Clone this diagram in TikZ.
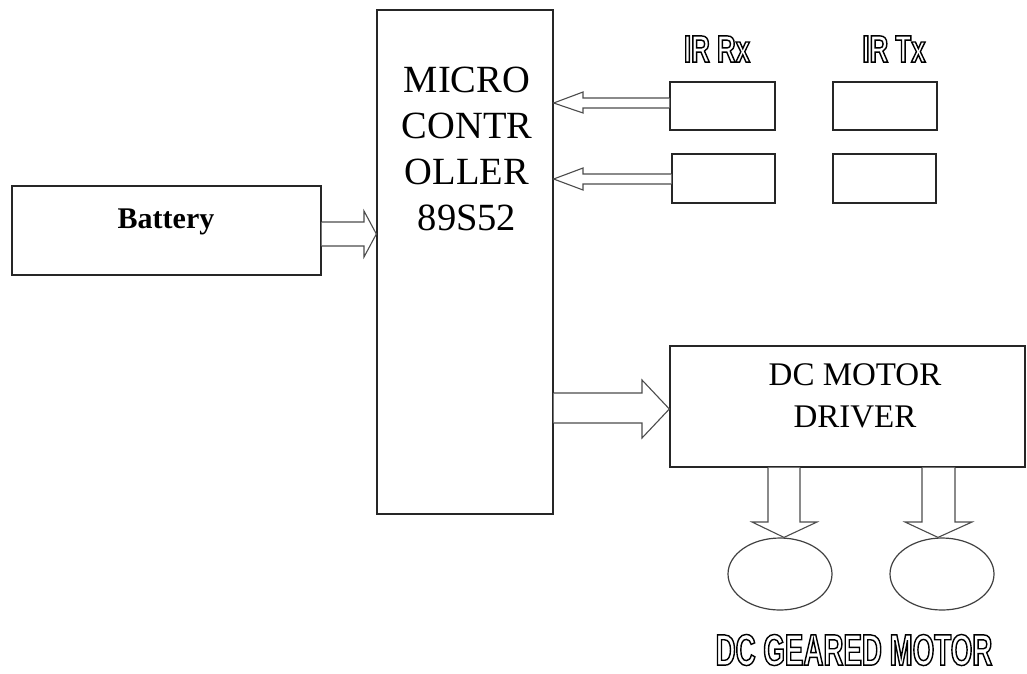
\documentclass[tikz,border=0pt]{standalone}
\usepackage{fontspec}
\setmainfont{Liberation Serif}
\newfontfamily\outfont[FakeStretch=0.68]{Liberation Sans}
\newfontfamily\outfontb[FakeStretch=0.63]{Liberation Sans}
\usetikzlibrary{shapes.geometric,calc}
\tikzset{
  box/.style={draw=black!85, line width=1.3pt, rectangle, inner sep=0pt},
  motor/.style={draw=black!75, line width=1.2pt, ellipse, inner sep=0pt, minimum width=104pt, minimum height=72pt},
  blk/.style={draw=black!70, line width=1.1pt, line join=miter, fill=white},
  outl/.style={inner sep=0pt, anchor=center},
}
\newcommand{\hollow}[1]{\special{pdf:literal direct 1 Tr 1.4 w 0 G}#1\special{pdf:literal direct 0 Tr}}
\begin{document}
\begin{tikzpicture}[x=1pt,y=-1pt]
\useasboundingbox (0,0) rectangle (1027,673);
% boxes
\node[box, minimum width=309pt, minimum height=89pt] (bat) at (166.5,230.5) {};
\node[font=\fontsize{30}{34}\selectfont\bfseries] (batt) at (166,222) {Battery};
\node[box, minimum width=176pt, minimum height=504pt] (mc) at (465,262) {};
\node[font=\fontsize{38.5}{46}\selectfont, align=center] (mct) at (467,149) {MICRO\\CONTR\\OLLER\\89S52};
\node[box, minimum width=105pt, minimum height=48pt] (rx1) at (722.5,106) {};
\node[box, minimum width=103pt, minimum height=49pt] (rx2) at (723.5,178.5) {};
\node[box, minimum width=104pt, minimum height=48pt] (tx1) at (885,106) {};
\node[box, minimum width=103pt, minimum height=49pt] (tx2) at (884.5,178.5) {};
\node[outl, font=\outfont\bfseries\fontsize{38}{40}\selectfont] (rxl) at (717,49) {\hollow{IR Rx}};
\node[outl, font=\outfont\bfseries\fontsize{38}{40}\selectfont] (txl) at (894,49) {\hollow{IR Tx}};
\node[box, minimum width=355pt, minimum height=121pt] (drv) at (847.5,406.5) {};
\node[font=\fontsize{33}{42}\selectfont, align=center] (drvt) at (855,396) {DC MOTOR\\DRIVER};
\node[motor] (m1) at (780,574) {};
\node[motor] (m2) at (942,574) {};
\node[outl, font=\outfontb\bfseries\fontsize{44}{48}\selectfont] (gml) at (854,650) {\hollow{DC GEARED MOTOR}};
% block arrows
\draw[blk] (bat.east |- 0,222) -- (364,222) -- (364,211) -- (mc.west |- 0,234) -- (364,257) -- (364,246) -- (bat.east |- 0,246);
\draw[blk] (rx1.west |- 0,98) -- (583,98) -- (583,92) -- (mc.east |- 0,103) -- (583,113) -- (583,108) -- (rx1.west |- 0,108);
\draw[blk] (rx2.west |- 0,174) -- (583,174) -- (583,168) -- (mc.east |- 0,179) -- (583,190) -- (583,184) -- (rx2.west |- 0,184);
\draw[blk] (mc.east |- 0,393) -- (642,393) -- (642,380) -- (drv.west |- 0,409) -- (642,438) -- (642,423) -- (mc.east |- 0,423);
\draw[blk] (768,0 |- drv.south) -- (768,522) -- (752,522) -- (784,0 |- m1.north) -- (817,522) -- (800,522) -- (800,0 |- drv.south);
\draw[blk] (922,0 |- drv.south) -- (922,522) -- (905,522) -- (938,0 |- m2.north) -- (972,522) -- (955,522) -- (955,0 |- drv.south);
\end{tikzpicture}
\end{document}
